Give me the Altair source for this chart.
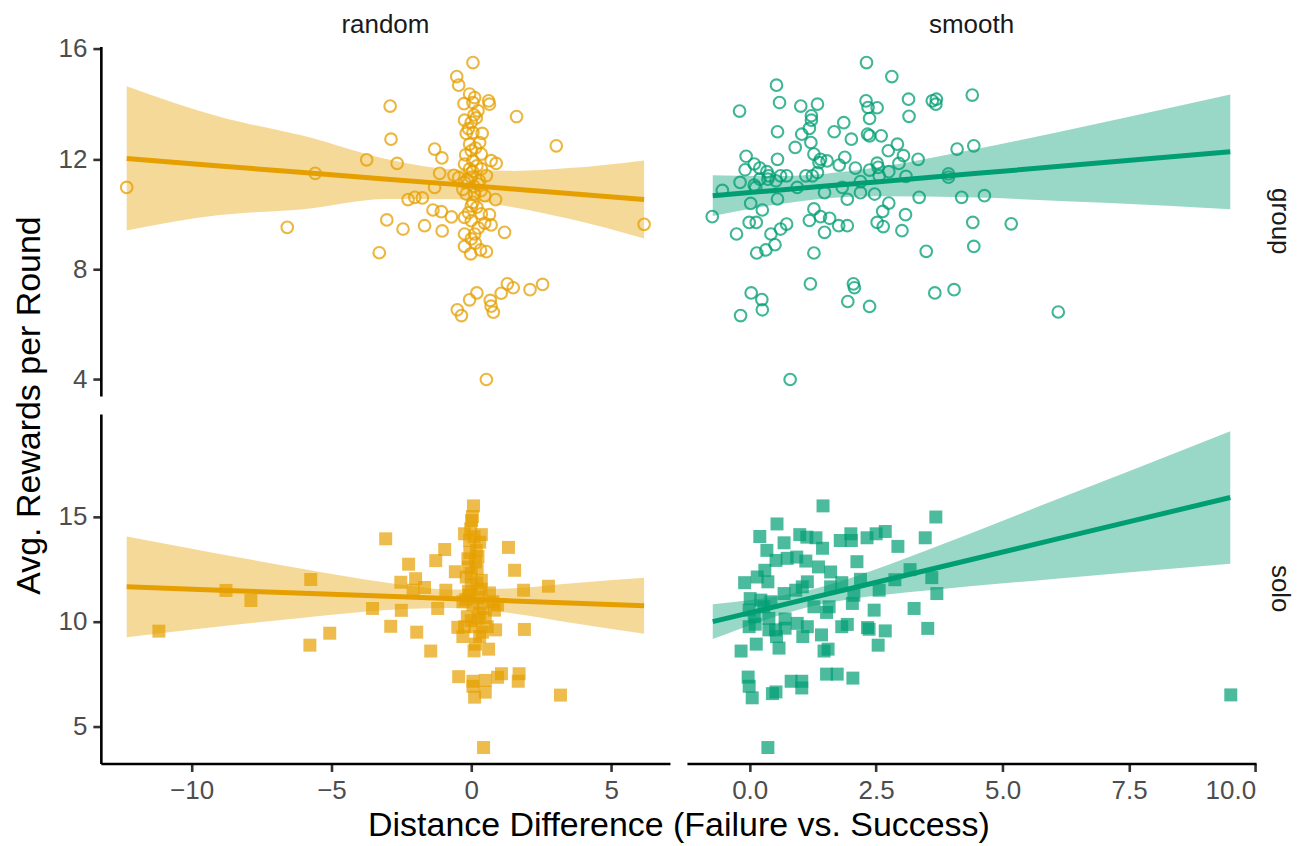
import altair as alt
import pandas as pd

# ---------------- observations (x = distance difference, y = avg. rewards) ----------------
random_group_x = [-12.32, -6.58, -5.58, -3.74, -3.02, -3.29, -2.9, -2.87,
                  0.06, -0.52, -0.45, -0.06, 0.12, -0.26, 0.06, 0.62, 0.65, 0.24, 1.62, -0.24, 0.0, 0.18,
                  -0.18, 0.06, 0.39, 3.04, -1.31, -1.05, -2.65, -0.06, 0.0, 0.36, -0.24, 0.06, 0.71, 0.89,
                  -0.06, 0.36, -1.13, -0.62, -0.45, 0.0, 0.54, -0.24, 0.24, -1.31, -0.18, 0.12, 0.48,
                  -2.26, -2.02, -1.75, 0.87, 0.06, -1.37, -1.07, -0.71, -2.44, -1.67, -1.04, -0.24, 0.0,
                  0.36, 0.65, 0.48, 0.71, 1.19, -0.24, 0.12, -0.24, -0.02, 0.33, 0.54, 1.29, 1.5, 2.1,
                  2.55, 1.07, 0.2, -0.06, 0.68, 0.71, 0.79, -0.5, -0.35, 0.54, 6.18,
                  0.1, -0.1, 0.3, 0.15, -0.2, 0.2, 0.05, -0.15, 0.3, 0.1, -0.3, 0.35, 0.0, 0.2, -0.1,
                  0.25, 0.0, 0.15]
random_group_y = [10.97, 9.52, 11.48, 11.97, 9.79, 8.6, 13.92, 12.72,
                  15.5, 14.99, 14.68, 14.36, 14.23, 14.01, 14.05, 14.11, 13.99, 13.75, 13.54, 13.41, 13.33, 13.49,
                  12.93, 12.96, 12.93, 12.48, 12.36, 12.04, 11.84, 12.54, 12.3, 12.18, 11.82, 11.94, 11.94, 11.84,
                  11.64, 11.64, 11.48, 11.41, 11.33, 11.33, 11.4, 11.15, 11.09, 10.97, 10.73, 10.73, 10.67,
                  10.53, 10.61, 10.59, 10.53, 10.43, 10.15, 10.09, 9.9, 9.46, 9.58, 9.39, 9.88, 9.76,
                  10.01, 9.98, 9.67, 9.61, 9.34, 9.28, 9.28, 8.83, 8.56, 8.7, 8.64, 7.47, 7.33, 7.26,
                  7.45, 7.13, 7.14, 6.89, 6.87, 6.66, 6.44, 6.53, 6.32, 4.0, 9.63,
                  13.6, 13.1, 12.6, 12.4, 12.15, 11.75, 11.55, 11.25, 11.2, 11.0, 10.9, 10.85, 10.3, 10.25, 10.05,
                  9.5, 9.1, 8.95]

smooth_group_x = [2.31, 2.81, 0.53, -0.2, 0.59, 1.01, 1.34, 1.22, 1.22, 1.18, 1.03, 0.55, 1.67, 1.86, 2.01,
                  2.3, 2.34, 2.52, 2.37, 2.33, 2.37, 2.6, 3.14, 3.15, 3.61, 3.69, 3.68, 4.4, 0.9, 1.21,
                  0.55, -0.07, -0.09, 0.09, 0.2, 0.34, -0.19, -0.54, -0.74, -0.26, 0.02, 0.25, -0.01, 0.13,
                  0.14, 0.32, 0.5, 0.42, 0.61, 0.73, 0.09, 0.2, 0.38, 0.52, 0.55, 0.61, 0.73, 0.94, 1.11,
                  1.24, 1.34, 1.27, 1.4, 1.53, 1.37, 1.77, 1.88, 2.09, 1.83, 1.48, 1.93, 2.19, 2.19, 2.47,
                  2.37, 2.52, 2.54, 2.56, 2.75, 2.74, 2.92, 3.04, 2.95, 3.09, 3.33, 3.35, 2.75, 2.63, 2.52,
                  2.64, 3.08, 3.01, 1.27, 1.4, 1.58, 1.18, 1.48, 1.76, 1.93, 1.27, 1.2, 2.05, 2.07, 1.94,
                  2.37, 0.03, 0.24, 0.25, -0.18, 0.8, 3.49, 3.66, 4.04, 4.1, 4.43, 4.19, 3.93, 3.93, 4.41,
                  4.43, 0.12, 0.36, 4.64, 5.17, 6.1]
smooth_group_y = [15.5, 14.99, 14.68, 13.74, 14.05, 13.92, 13.99, 13.57, 13.41, 13.11, 12.9, 12.99, 12.99, 13.32, 12.72,
                  14.11, 13.87, 13.86, 13.47, 12.9, 12.84, 12.84, 14.17, 13.55, 14.11, 14.17, 13.99, 14.32, 12.42, 12.6,
                  11.99, 12.1, 11.61, 11.82, 11.67, 11.54, 11.15, 10.86, 9.91, 9.28, 10.39, 10.15, 9.7, 9.7,
                  8.59, 8.7, 8.89, 9.28, 9.46, 9.64, 11.05, 11.27, 11.39, 11.21, 10.55, 11.39, 11.39, 10.97, 11.39,
                  11.39, 11.51, 12.18, 11.99, 11.93, 11.87, 11.78, 12.06, 11.67, 10.97, 10.78, 10.54, 11.18, 10.78, 10.73,
                  11.6, 11.85, 11.7, 11.39, 11.54, 12.3, 12.54, 12.12, 11.84, 11.37, 11.99, 10.61, 10.4, 10.1, 9.7,
                  9.55, 9.98, 9.4, 10.19, 9.91, 9.85, 9.77, 9.34, 9.58, 9.58, 8.59, 7.47, 7.47, 7.33, 6.83,
                  6.65, 7.14, 6.9, 6.53, 6.32, 4.0, 8.65, 7.14, 7.26, 12.36, 12.48, 10.61, 11.46, 11.34, 9.7,
                  8.83, 10.97, 11.27, 10.67, 9.65, 6.45]

random_solo_x = [-11.17, -8.77, -7.88, -5.74, -5.77, -5.06, -3.53, -3.06, -2.88,
                 -2.5, -2.24, -2.52, -1.99, -2.08, -1.67, -1.95, -1.45, -1.27, -0.95, -0.57, -0.91, -1.2,
                 0.08, 0.04, 0.01, -0.02, -0.24, 0.36, 0.3, -0.06, 0.18, 0.24, -0.12, -0.1, 0.21, 0.36,
                 -0.18, 0.0, 0.65, 0.77, 0.83, -0.06, 0.24, -0.3, 0.06, 0.42, -0.14, 0.24, -0.24, 0.12,
                 0.57, 0.87, -0.3, 0.3, 0.15, 0.62, 0.1,
                 1.33, 1.55, 1.87, 2.76, 1.9, -0.45, 0.06, 0.5, 0.12, 0.06, 0.5, 0.94, 1.08, 1.71, 1.68,
                 3.19, 0.44, -0.48, 0.94,
                 0.0, 0.2, -0.1, 0.3, 0.0, 0.4, -0.05, 0.1, 0.15, -0.2, 0.5, 0.35]
random_solo_y = [9.55, 11.49, 11.01, 12.01, 8.88, 9.45, 10.63, 13.95, 9.78,
                 10.54, 12.74, 11.88, 12.05, 11.5, 11.63, 9.5, 8.6, 12.91, 13.44, 12.38, 11.5, 10.63,
                 15.52, 15.01, 14.82, 14.42, 14.19, 14.15, 13.79, 13.87, 13.4, 13.11, 13.0, 12.6, 12.52, 11.97,
                 12.13, 11.74, 11.37, 10.95, 10.55, 11.26, 11.15, 10.95, 10.8, 10.63, 10.24, 10.16, 9.76, 9.76,
                 9.76, 9.61, 9.29, 9.29, 8.93, 8.69, 8.61,
                 13.54, 12.45, 11.5, 11.69, 9.63, 7.38, 6.92, 6.64, 6.4, 7.16, 7.2, 7.35, 7.52, 7.52, 7.16,
                 6.5, 4.0, 9.73, 10.8,
                 12.3, 11.85, 11.45, 10.4, 10.05, 9.5, 13.3, 14.05, 12.85, 11.05, 10.2, 11.55]

smooth_solo_x = [1.45, 0.54, 3.68, 0.2, 0.99, 1.13, 1.31, 0.68, 0.34, 1.44, 1.79, 2.0, 2.01, 2.32, 2.5,
                 2.68, 2.93, 3.47, 0.52, 0.74, 0.93, 1.11, 1.36, 1.6, 2.12, 0.3, 0.15, -0.1, 0.36, 1.14,
                 1.6, 1.82, 2.19, 2.87, 3.17, 3.6, 3.7, 2.56, 0.01, 0.22, 0.42, 0.68, 0.91, 1.04, 1.27,
                 1.52, 1.57, 2.03, 2.06, 2.46, 3.25, -0.01, 0.09, 0.38, 0.28, -0.01, 0.11, 0.38, 0.51, 0.7,
                 0.7, 0.94, 1.14, 1.42, 1.82, 1.93, 2.33, 2.36, 2.68, 3.52, 1.05, 0.53, 0.13, -0.17, 0.58,
                 1.47, 1.55, 2.54, -0.03, -0.01, 0.05, 0.52, 0.45, 0.82, 1.03, 1.03, 1.52, 1.73, 2.04, 0.36,
                 9.51]
smooth_solo_y = [15.52, 14.66, 14.99, 14.06, 14.15, 14.03, 14.0, 13.76, 13.4, 13.5, 13.87, 14.19, 13.87, 14.0, 14.19,
                 14.3, 13.59, 14.0, 12.92, 13.02, 13.08, 12.89, 12.61, 12.37, 12.86, 12.45, 12.13, 11.86, 11.9, 11.9,
                 11.66, 11.86, 12.02, 12.0, 12.48, 12.1, 11.34, 11.5, 11.1, 11.03, 10.95, 11.34, 11.5, 11.66, 10.71,
                 10.44, 10.71, 10.87, 11.26, 10.55, 10.63, 10.55, 10.24, 10.16, 10.71, 9.76, 9.88, 9.61, 9.61, 10.13,
                 9.69, 9.92, 9.76, 9.37, 9.76, 9.87, 9.72, 9.64, 9.56, 9.68, 9.29, 9.29, 8.93, 8.6, 8.74,
                 8.6, 8.69, 8.88, 7.36, 6.92, 6.37, 6.65, 6.57, 7.16, 7.16, 6.84, 7.5, 7.5, 7.31, 4.0,
                 6.51]

# ---------------- linear fits with 95% confidence bands ----------------
random_group_fx = [-12.32, -9, -6, -3, -0.6, 1.5, 3.5, 6.18]
random_group_fit = [12.02, 11.75, 11.51, 11.27, 11.08, 10.91, 10.75, 10.53]
random_group_lo = [9.41, 9.97, 10.18, 10.55, 10.54, 10.25, 9.83, 9.12]
random_group_hi = [14.64, 13.53, 12.84, 11.99, 11.62, 11.57, 11.67, 11.95]

smooth_group_fx = [-0.73, 0.5, 1.5, 2.5, 4.5, 7, 9.5]
smooth_group_fit = [10.67, 10.86, 11.02, 11.17, 11.48, 11.87, 12.26]
smooth_group_lo = [9.93, 10.34, 10.57, 10.65, 10.6, 10.41, 10.18]
smooth_group_hi = [11.41, 11.38, 11.47, 11.69, 12.37, 13.33, 14.34]

random_solo_fx = [-12.32, -9, -6, -3, -0.6, 1.5, 3.5, 6.18]
random_solo_fit = [11.66, 11.5, 11.35, 11.21, 11.09, 10.99, 10.89, 10.76]
random_solo_lo = [9.26, 9.77, 10.19, 10.56, 10.65, 10.39, 9.96, 9.43]
random_solo_hi = [14.06, 13.23, 12.51, 11.86, 11.53, 11.59, 11.82, 12.09]

smooth_solo_fx = [-0.73, 0.2, 1.2, 2.2, 3.5, 6, 9.5]
smooth_solo_fit = [10.0, 10.54, 11.12, 11.7, 12.45, 13.9, 15.92]
smooth_solo_lo = [9.17, 9.99, 10.72, 11.15, 11.49, 12.04, 12.76]
smooth_solo_hi = [10.83, 11.09, 11.52, 12.25, 13.41, 15.76, 19.08]

# ---------------- styling ----------------
ORANGE = "#E69F00"
GREEN = "#009E73"
FONT = "Liberation Sans"
W, H = 570, 350
GAP_COL, GAP_ROW = 17, 18

X_RANDOM = [-13.245, 7.105]
X_SMOOTH = [-1.24, 10.01]
Y_GROUP = [3.4, 16.08]
Y_SOLO = [3.24, 19.9]

axis_style = dict(domainColor="black", domainWidth=2.6, tickColor="#333333", tickWidth=2.6,
                  tickSize=8, labelFontSize=26, labelColor="#4D4D4D", labelPadding=6,
                  labelFont=FONT, grid=False, titleFont=FONT, titleFontSize=34,
                  titleFontWeight="normal", titleColor="black")

y_axis_group = alt.Axis(values=[4, 8, 12, 16], title="Avg. Rewards per Round",
                        titleX=-71, titleY=(2 * H + GAP_ROW) / 2, titleAngle=270,
                        titleAlign="center", titleBaseline="middle", **axis_style)
y_axis_solo = alt.Axis(values=[5, 10, 15], title=None, **axis_style)
x_axis_random = alt.Axis(values=[-10, -5, 0, 5], title="Distance Difference (Failure vs. Success)",
                         titleX=(2 * W + GAP_COL) / 2, titleY=72, titleAlign="center",
                         titleBaseline="alphabetic", **axis_style)
x_axis_smooth = alt.Axis(values=[0, 2.5, 5, 7.5, 10], format=".1f", title=None, **axis_style)


def panel(px, py, fx, fit, lo, hi, color, filled, xdom, ydom, xaxis, yaxis,
          col_label=None, row_label=None):
    pts = pd.DataFrame({"x": px, "y": py})
    band = pd.DataFrame({"x": fx, "fit": fit, "lo": lo, "hi": hi})
    xs = alt.Scale(domain=xdom, nice=False, zero=False)
    ys = alt.Scale(domain=ydom, nice=False, zero=False)
    xenc = alt.X("x:Q", scale=xs, axis=xaxis)

    if filled:
        pm = alt.Chart(pts).mark_point(shape="square", size=169, filled=True,
                                       color=color, opacity=0.7, strokeWidth=0)
    else:
        pm = alt.Chart(pts).mark_point(shape="circle", size=135, filled=False,
                                       color=color, opacity=0.75, strokeWidth=2.1)
    pm = pm.encode(x=xenc, y=alt.Y("y:Q", scale=ys, axis=yaxis))

    area = alt.Chart(band).mark_area(color=color, opacity=0.4, interpolate="monotone").encode(
        x=xenc, y=alt.Y("lo:Q", scale=ys, axis=yaxis), y2="hi:Q")
    line = alt.Chart(band).mark_line(color=color, strokeWidth=5).encode(
        x=xenc, y=alt.Y("fit:Q", scale=ys, axis=yaxis))

    layers = [pm, area, line]
    if col_label:
        layers.append(alt.Chart(pd.DataFrame({"t": [col_label]})).mark_text(
            font=FONT, fontSize=26, color="#1A1A1A", baseline="alphabetic", align="center"
        ).encode(text="t:N", x=alt.value(W / 2), y=alt.value(-14)))
    if row_label:
        layers.append(alt.Chart(pd.DataFrame({"t": [row_label]})).mark_text(
            font=FONT, fontSize=26, color="#1A1A1A", baseline="middle", align="center", angle=90
        ).encode(text="t:N", x=alt.value(W + 24), y=alt.value(H / 2)))
    return alt.layer(*layers).properties(width=W, height=H)


top_left = panel(random_group_x, random_group_y, random_group_fx, random_group_fit,
                 random_group_lo, random_group_hi, ORANGE, False, X_RANDOM, Y_GROUP,
                 None, y_axis_group, col_label="random")
top_right = panel(smooth_group_x, smooth_group_y, smooth_group_fx, smooth_group_fit,
                  smooth_group_lo, smooth_group_hi, GREEN, False, X_SMOOTH, Y_GROUP,
                  None, None, col_label="smooth", row_label="group")
bottom_left = panel(random_solo_x, random_solo_y, random_solo_fx, random_solo_fit,
                    random_solo_lo, random_solo_hi, ORANGE, True, X_RANDOM, Y_SOLO,
                    x_axis_random, y_axis_solo)
bottom_right = panel(smooth_solo_x, smooth_solo_y, smooth_solo_fx, smooth_solo_fit,
                     smooth_solo_lo, smooth_solo_hi, GREEN, True, X_SMOOTH, Y_SOLO,
                     x_axis_smooth, None, row_label="solo")

chart = alt.concat(
    top_left, top_right, bottom_left, bottom_right,
    columns=2, spacing={"row": GAP_ROW, "column": GAP_COL}, bounds="flush"
).properties(
    padding={"left": 13, "top": 11, "right": 8, "bottom": 4},
    background="white",
).configure_view(stroke=None)

chart.save("out.html", embed_options={"renderer": "svg", "actions": False})
